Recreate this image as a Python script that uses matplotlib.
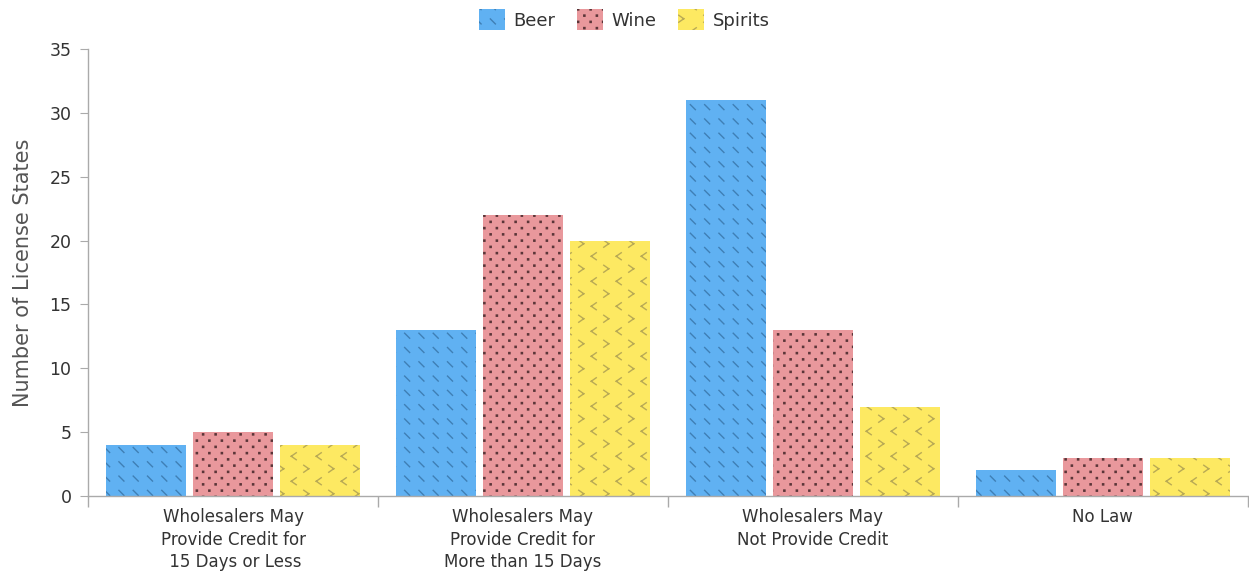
import warnings
import numpy as np
import matplotlib
matplotlib.use("Agg")
import matplotlib.pyplot as plt
import matplotlib.hatch as mhatch
from matplotlib.path import Path

warnings.filterwarnings("ignore")

categories = ["Wholesalers May\nProvide Credit for\n 15 Days or Less",
              "Wholesalers May\nProvide Credit for\nMore than 15 Days",
              "Wholesalers May\nNot Provide Credit",
              "No Law"]
beer = [4, 13, 31, 2]
wine = [5, 22, 13, 3]
spirits = [4, 20, 7, 3]
series_names = ["Beer", "Wine", "Spirits"]


# custom hatch patterns: 'k' short backslash dashes, 'v' chevrons, 'p' dots
class DashHatch(mhatch.HatchPatternBase):
    def __init__(self, hatch, density):
        self.n = 7 * hatch.count('k')
        self.num_vertices = self.n * self.n * 2

    def set_vertices_and_codes(self, vertices, codes):
        d = 0.025
        k = 0
        for i in range(self.n):
            for j in range(self.n):
                cx, cy = (j + 0.5) / self.n, (i + 0.5) / self.n
                vertices[k] = (cx - d, cy + d)
                vertices[k + 1] = (cx + d, cy - d)
                codes[k] = Path.MOVETO
                codes[k + 1] = Path.LINETO
                k += 2


class ChevronHatch(mhatch.HatchPatternBase):
    def __init__(self, hatch, density):
        self.rows = 8 * hatch.count('v')
        self.cols = 4 * hatch.count('v')
        self.num_vertices = self.rows * self.cols * 4

    def set_vertices_and_codes(self, vertices, codes):
        w, h = 0.025, 0.035
        k = 0
        for i in range(self.rows):
            right = (i % 2 == 0)
            off = 0.25 if right else 0.75
            for j in range(self.cols):
                cx = (j + off) / self.cols
                cy = (i + 0.5) / self.rows
                s = 1 if right else -1
                pts = [(cx - s * w, cy + h), (cx + s * w, cy),
                       (cx + s * w, cy), (cx - s * w, cy - h)]
                for p in range(4):
                    vertices[k + p] = pts[p]
                    codes[k + p] = Path.MOVETO if p % 2 == 0 else Path.LINETO
                k += 4


class DotHatch(mhatch.HatchPatternBase):
    def __init__(self, hatch, density):
        self.rows = 16 * hatch.count('p')
        self.cols = 8 * hatch.count('p')
        self.num_vertices = self.rows * self.cols * 5

    def set_vertices_and_codes(self, vertices, codes):
        s = 0.006
        k = 0
        for i in range(self.rows):
            off = 0.25 if i % 2 == 0 else 0.75
            for j in range(self.cols):
                cx = (j + off) / self.cols
                cy = (i + 0.5) / self.rows
                sq = [(cx - s, cy - s), (cx + s, cy - s), (cx + s, cy + s),
                      (cx - s, cy + s), (cx - s, cy - s)]
                for p in range(5):
                    vertices[k + p] = sq[p]
                codes[k] = Path.MOVETO
                codes[k + 1:k + 4] = Path.LINETO
                codes[k + 4] = Path.CLOSEPOLY
                k += 5


mhatch._hatch_types.extend([DashHatch, ChevronHatch, DotHatch])
mhatch._validate_hatch_pattern = lambda h: None

plt.rcParams['hatch.linewidth'] = 1.0
plt.rcParams['font.family'] = ['DejaVu Sans']

fig = plt.figure(figsize=(12.49, 5.74), dpi=100)
ax = fig.add_axes([0.0705, 0.136, 0.9285, 0.7786])

x = np.arange(len(categories))
width = 0.276
offs = [-0.30, 0.0, 0.30]
fills = ['#60b1f2', '#e9989c', '#fde962']
hatch_cols = ['#3f7fb5', '#5a3538', '#b9aa55']
hatches = ['k', 'p', 'v']

handles = []
for vals, off, fc, hc, hp, name in zip([beer, wine, spirits], offs, fills, hatch_cols, hatches, series_names):
    b = ax.bar(x + off, vals, width, color=fc, edgecolor=hc, linewidth=0,
               hatch=hp, label=name, zorder=2)
    handles.append(b)

ax.set_xlim(-0.5, 3.5)
ax.set_ylim(0, 35)
ax.set_yticks(np.arange(0, 36, 5))
ax.set_xticks(np.arange(-0.5, 3.6, 1))
ax.set_xticklabels([])
ax.set_xticks(x, minor=True)
ax.set_xticklabels(categories, minor=True, fontsize=12, color='#333333',
                   linespacing=1.3)
ax.tick_params(axis='x', which='major', length=8, color='#aaaaaa', width=1)
ax.tick_params(axis='x', which='minor', length=0, pad=9)
ax.tick_params(axis='y', length=6, color='#aaaaaa', labelsize=12.5,
               labelcolor='#333333', pad=6)

for side in ['top', 'right']:
    ax.spines[side].set_visible(False)
for side in ['left', 'bottom']:
    ax.spines[side].set_color('#aaaaaa')
    ax.spines[side].set_linewidth(1)

ax.set_ylabel('Number of License States', fontsize=15, color='#555555', labelpad=12)

fig.legend(handles=handles, labels=series_names, loc='upper center',
           bbox_to_anchor=(0.5, 1.012), ncol=3, frameon=False, fontsize=13,
           handlelength=1.4, handleheight=1.4, columnspacing=1.2,
           handletextpad=0.5, labelcolor='#333333')

fig.savefig('out.png', dpi=100)
